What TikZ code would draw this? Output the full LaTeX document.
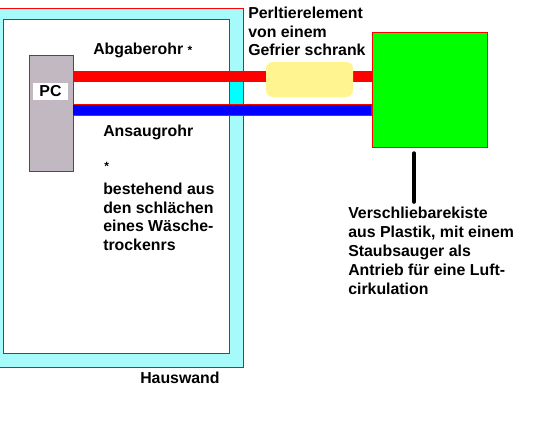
\documentclass[tikz,border=0pt]{standalone}
\usepackage{fontspec}
\setmainfont{Liberation Sans}
\usetikzlibrary{calc}
\definecolor{WandCyan}{HTML}{A6FAFA}
\definecolor{WandVoll}{HTML}{00FFFF}
\definecolor{PCGrau}{HTML}{C2B8C2}
\definecolor{PeltGelb}{HTML}{FFF490}
\definecolor{KisteGruen}{HTML}{00FF00}

\begin{document}
\begin{tikzpicture}[x=0.75pt,y=-0.75pt,
  txt/.style={anchor=north west,inner sep=0pt,align=left,font=\bfseries\fontsize{11.9}{13.9}\selectfont},
  rohr/.style={line width=8.25pt},
  zeiger/.style={line width=3pt,line cap=round,black}]
  \useasboundingbox (0,0) rectangle (534,429);
  % Hauswand
  \filldraw[fill=WandCyan,draw=red] (-1,8) rectangle (243,367);
  \filldraw[fill=white,draw=red] (3,19) rectangle (229,353);
  \filldraw[fill=WandVoll,draw=red] (229,80) rectangle (243,106);
  \node[txt] (wand) at (140,371.5) {Hauswand};
  % PC und Kiste
  \node[draw=red,fill=PCGrau,minimum width=33pt,minimum height=87pt,inner sep=0pt] (pc) at (51,113) {};
  \node[fill=white,minimum width=26.25pt,minimum height=12.75pt,inner sep=0pt,font=\bfseries\fontsize{11.9}{13.9}\selectfont] (pclabel) at (50.5,91.5) {PC};
  \node[draw=red,fill=KisteGruen,minimum width=86.25pt,minimum height=86.25pt,inner sep=0pt] (kiste) at (429.5,89.5) {};
  % Rohre
  \coordinate (abg) at (0,76.5);
  \coordinate (ans) at (0,110);
  \draw[rohr,red] (pc.east |- abg) -- (kiste.west |- abg);
  \draw[line width=9pt,red] (pc.east |- ans) -- (kiste.west |- ans);
  \draw[line width=7.5pt,blue] (pc.east |- ans) -- ([xshift=-0.75pt]kiste.west |- ans);
  \node[fill=PeltGelb,rounded corners=5pt,minimum width=65.25pt,minimum height=26.25pt,inner sep=0pt] (pelt) at (309.5,79.5) {};
  % Texte
  \node[txt] (abgtext) at (93,43) {Abgaberohr {\fontsize{9}{9}\selectfont*}};
  \node[txt] (anstext) at (103,125) {Ansaugrohr};
  \node[txt] (stern) at (104,162) {{\fontsize{9}{9}\selectfont*}};
  \node[txt] (besttext) at (103,183) {bestehend aus\\den schlächen\\eines Wäsche-\\trockenrs};
  \node[txt] (pelttext) at (248,7) {Perltierelement\\von einem\\Gefrier schrank};
  \node[txt,font=\bfseries\fontsize{11.9}{14.3}\selectfont] (kistetext) at (348,206.5) {Verschliebarekiste\\aus Plastik, mit einem\\Staubsauger als\\Antrieb für eine Luft-\\cirkulation};
  \coordinate (lead) at (414,0);
  \draw[zeiger,shorten <=4.5pt,shorten >=3.5pt] (kiste.south -| lead) -- (kistetext.north -| lead);
\end{tikzpicture}
\end{document}
